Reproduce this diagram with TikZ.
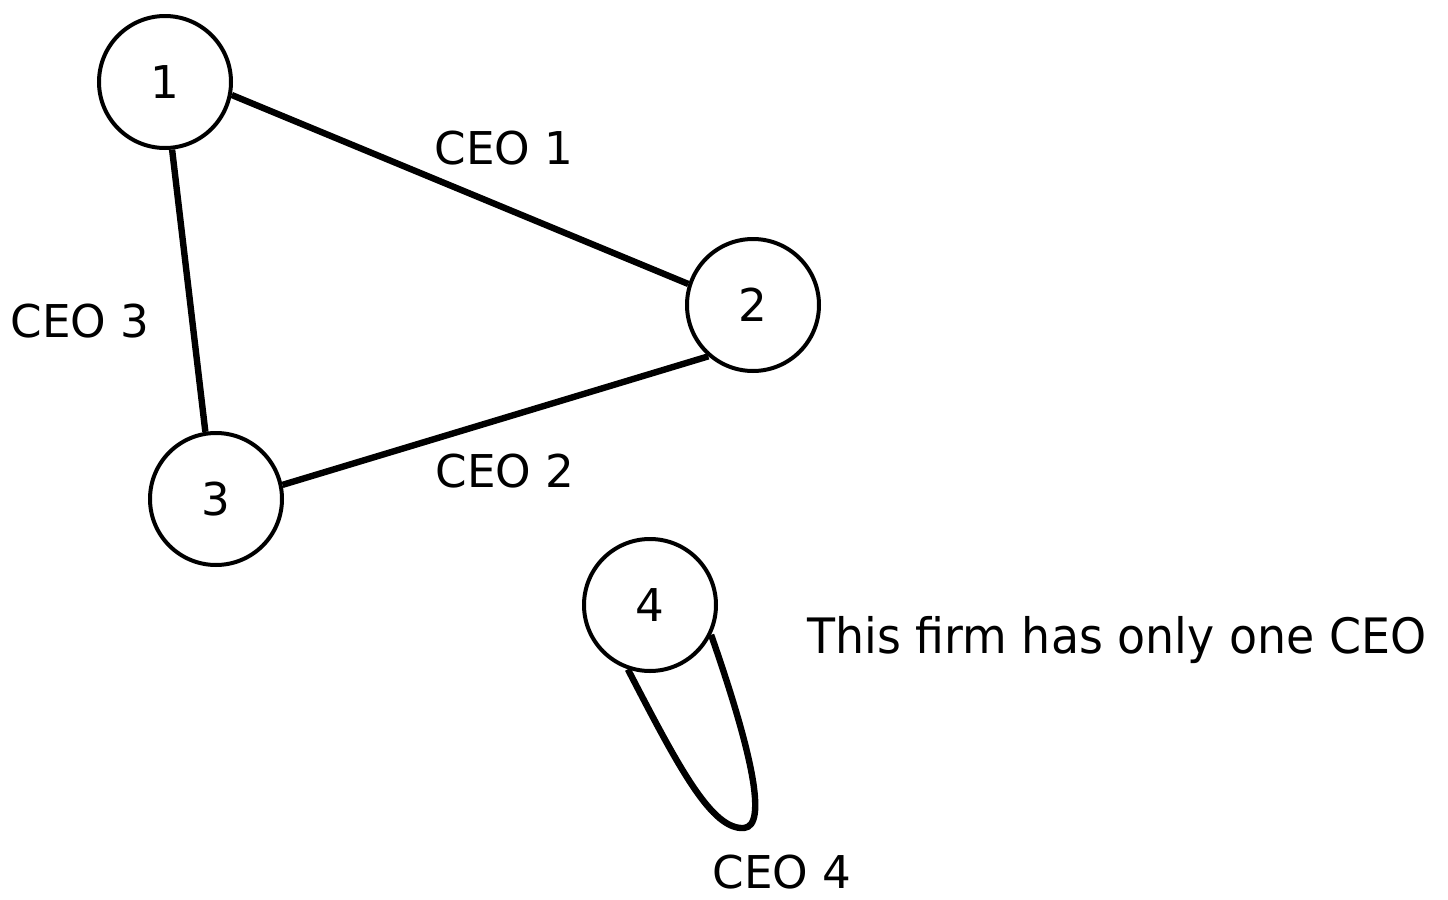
\documentclass[tikz,border=0pt]{standalone}
\usepackage{fontspec}
\setmainfont{DejaVu Sans}
\newfontfamily\notefont{DejaVu Sans}[FakeStretch=0.94]
\begin{document}
\begin{tikzpicture}[x=0.5pt,y=-0.5pt,
  firm/.style={circle,draw,line width=2pt,minimum size=66pt,inner sep=0pt,
    font=\fontsize{22.6}{27}\selectfont},
  link/.style={line width=3.2pt},
  lbl/.style={inner sep=0pt,anchor=base,font=\fontsize{22.6}{27}\selectfont}]
\useasboundingbox (0,0) rectangle (1448,900);
% firms
\node[firm] (n1) at (165,82) {1};
\node[firm] (n2) at (753,305) {2};
\node[firm] (n3) at (216,499) {3};
\node[firm] (n4) at (650,605) {4};
% CEO links between firms
\draw[link] (n1.-11) -- (n2.162);
\draw[link] (n1.-84) -- (n3.99);
\draw[link] (n2.229) -- (n3.12);
% self loop
\draw[link,line join=round] (n4.251) .. controls (680,770) and (712,830) .. (744,828)
  .. controls (768,826) and (752,752) .. (n4.334);
% labels
\node[lbl] (l1) at (504,164) {CEO 1};
\node[lbl] (l3) at (80,337) {CEO 3};
\node[lbl] (l2) at (505,487) {CEO 2};
\node[lbl] (l4) at (782,888) {CEO 4};
\node[inner sep=0pt,anchor=base west,font=\notefont\fontsize{24.4}{29}\selectfont] (note) at (807,653) {This firm has only one CEO};
\end{tikzpicture}
\end{document}
